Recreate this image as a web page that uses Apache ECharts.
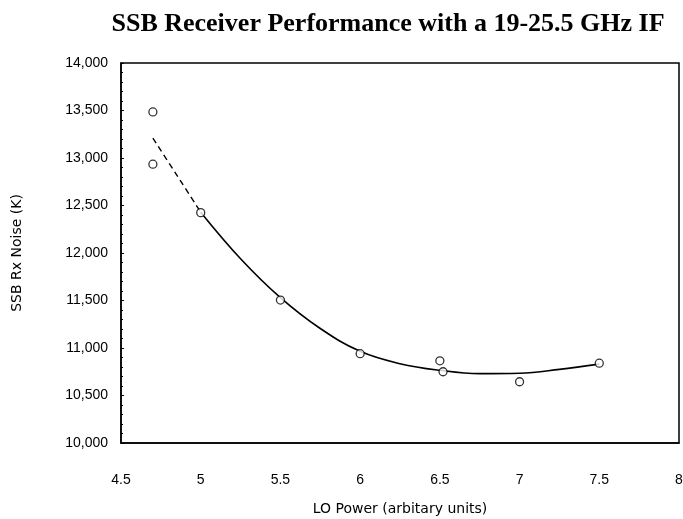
<!DOCTYPE html>
<html>
<head>
<meta charset="utf-8">
<script src="https://cdn.jsdelivr.net/npm/echarts@6/dist/echarts.min.js"></script>
<style>
	html, body { margin: 0; padding: 0; background: #fff; }
	#chart { width: 683px; height: 519px; }
</style>
</head>
<body>
<div id="chart"></div>
<script>
// measured points
var pointX = [4.7, 4.7, 5.0, 5.5, 6.0, 6.5, 6.52, 7.0, 7.5];
var pointY = [13485, 12935, 12425, 11505, 10940, 10865, 10750, 10645, 10840];

// fitted curve (dashed part, then solid part)
var fitDashX = [4.7, 4.8, 4.9, 5.0];
var fitDashY = [13210, 12950, 12690, 12430];
var fitX = [5.0, 5.25, 5.5, 5.75, 6.0, 6.25, 6.5, 6.75, 7.0, 7.25, 7.5];
var fitY = [12430, 11940, 11530, 11205, 10965, 10835, 10765, 10730, 10735, 10775, 10830];

var xTicks = [4.5, 5, 5.5, 6, 6.5, 7, 7.5, 8];
var yTicks = [10000, 10500, 11000, 11500, 12000, 12500, 13000, 13500, 14000];

function pairs(xs, ys){
	var out = [];
	for(var i = 0; i < xs.length; i++){
		out.push([xs[i], ys[i]]);
	}
	return out;
}

function commaFmt(v){
	return String(v).replace(/\B(?=(\d{3})+(?!\d))/g, ",");
}

var chart = echarts.init(document.getElementById('chart'));
chart.setOption({
	animation: false,
	backgroundColor: '#fff',
	title: {
		text: 'SSB Receiver Performance with a 19-25.5 GHz IF',
		left: 383,
		textAlign: 'center',
		top: 6,
		textStyle: { fontFamily: 'Liberation Serif', fontWeight: 'bold', fontSize: 26, color: '#000' }
	},
	grid: {
		left: 121, right: 4, top: 63, bottom: 76,
		outerBoundsMode: 'none',
		show: true, borderColor: '#000', borderWidth: 1.5, backgroundColor: 'transparent'
	},
	xAxis: {
		type: 'value',
		min: xTicks[0], max: xTicks[xTicks.length - 1], interval: 0.5,
		name: 'LO Power (arbitary units)',
		nameLocation: 'middle', nameGap: 59,
		nameTextStyle: { fontFamily: 'DejaVu Sans', fontSize: 14, color: '#000' },
		axisLine: { show: true, lineStyle: { color: '#000', width: 1.5 } },
		axisTick: { show: false },
		splitLine: { show: false },
		axisLabel: { margin: 30, fontFamily: 'Liberation Sans', fontSize: 14, color: '#000' }
	},
	yAxis: {
		type: 'value',
		min: yTicks[0], max: yTicks[yTicks.length - 1], interval: 500,
		name: 'SSB Rx Noise (K)',
		nameLocation: 'middle', nameGap: 97,
		nameTextStyle: { fontFamily: 'DejaVu Sans', fontSize: 14, color: '#000' },
		axisLine: { show: true, lineStyle: { color: '#000', width: 1.5 } },
		axisTick: { show: true, inside: true, length: 3, lineStyle: { color: '#000' } },
		minorTick: { show: true, splitNumber: 5, length: 2, lineStyle: { color: '#000' } },
		splitLine: { show: false },
		axisLabel: { margin: 13, fontFamily: 'Liberation Sans', fontSize: 14, color: '#000', formatter: commaFmt }
	},
	series: [
		{
			type: 'line',
			data: pairs(fitDashX, fitDashY),
			smooth: true,
			symbol: 'none',
			lineStyle: { color: '#000', width: 1.4, type: [6, 4] },
			z: 2
		},
		{
			type: 'line',
			data: pairs(fitX, fitY),
			smooth: 0.4,
			symbol: 'none',
			lineStyle: { color: '#000', width: 1.6 },
			z: 2
		},
		{
			type: 'scatter',
			data: pairs(pointX, pointY),
			symbol: 'circle',
			symbolSize: 8,
			itemStyle: { color: '#fff', borderColor: '#000', borderWidth: 1.3 },
			z: 3
		}
	]
});
</script>
</body>
</html>
